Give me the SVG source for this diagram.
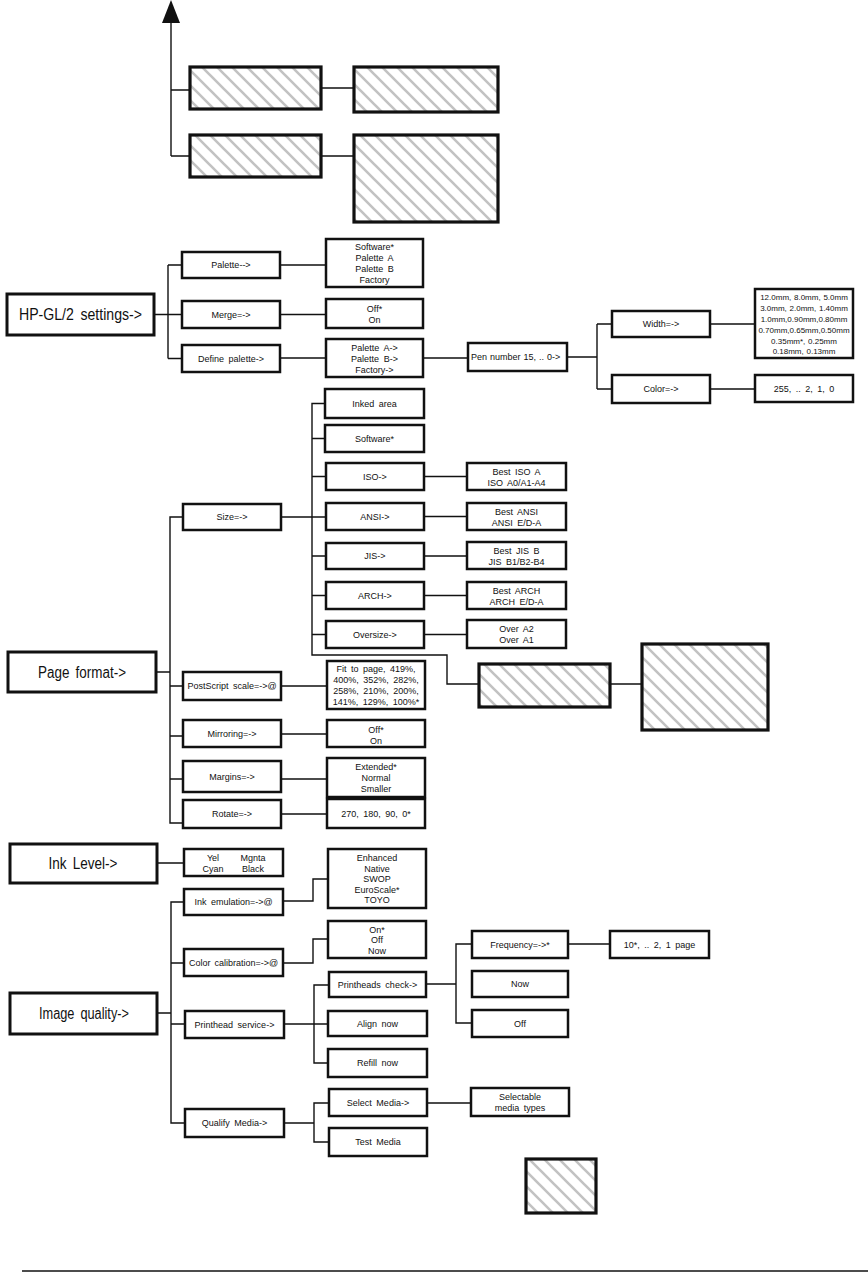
<svg xmlns="http://www.w3.org/2000/svg" width="868" height="1276" viewBox="0 0 868 1276">
<defs>
<pattern id="hatch" patternUnits="userSpaceOnUse" width="15" height="15">
<path d="M-2,-2 L17,17 M-4,11 L4,19 M11,-4 L19,4" stroke="#c2c2c2" stroke-width="2.6" fill="none"/>
</pattern>
<style>
.b{fill:#fff;stroke:#111;stroke-width:2.5}
.B{fill:#fff;stroke:#111;stroke-width:3}
.h{fill:url(#hatch);stroke:#111;stroke-width:3.2}
.t{font-family:"Liberation Sans",Arial,sans-serif;font-size:9px;fill:#111;text-anchor:middle;word-spacing:2px}
.s{font-family:"Liberation Sans",Arial,sans-serif;font-size:8px;fill:#111;text-anchor:middle;word-spacing:0.5px}
.L{font-family:"Liberation Sans",Arial,sans-serif;font-size:16px;fill:#111;text-anchor:middle;word-spacing:3px}
.c{fill:none;stroke:#111;stroke-width:1.4}
</style>
</defs>
<rect width="868" height="1276" fill="#fff"/>

<g id="connectors">
<path class="c" d="M171,20 V156 M171,90 H190 M171,156 H190 M321,88 H354 M321,156 H354"/>
<polygon points="162,23 180,23 171,0" fill="#111"/>
<path class="c" d="M154,314.5 H168 M168,265 V358.5 M168,265 H182 M168,314.5 H182 M168,358.5 H182 M280,265 H326 M280,314.5 H326 M280,358 H326 M423,358 H468 M567,357 H597 M597,324 V389 M597,324 H612 M597,389 H612 M710,324 H755 M710,389 H755"/>
<path class="c" d="M325,403.5 H312 V655 H447 V684 H479 M312,438.5 H325 M312,476.5 H326 M281,517 H326 M312,556 H326 M312,595.5 H326 M312,634.5 H326 M424,476.5 H467 M424,516.5 H467 M424,556 H467 M424,595.5 H467 M424,634.5 H467 M610,684 H642"/>
<path class="c" d="M156,672 H170 M183,517 H170 V823 H183 M170,686 H183 M170,736 H183 M170,779 H183 M281,686 H327 M281,734 H327 M281,779 H327 M281,814 H327"/>
<path class="c" d="M157,863 H184 M283,901 H313 V879 H328 M283,963 H313 V939 H328 M157,1013 H171 M184,902 H171 V1123 H185 M171,963 H184 M171,1024 H185 M284,1024 H328 M329,985 H314 V1063 H328 M426,984 H456 M472,944 H456 V1023 H472 M568,944 H610 M284,1123 H314 M329,1103 H314 V1142 H329 M427,1103 H471"/>
<path class="c" d="M22,1271 H868" stroke-width="1.6"/>
</g>

<g id="top-hatched">
<rect id="hat1" class="h" x="190" y="67" width="131" height="42"/>
<rect id="hat2" class="h" x="354" y="67" width="144" height="45"/>
<rect id="hat3" class="h" x="190" y="135" width="131" height="42"/>
<rect id="hat4" class="h" x="354" y="135" width="144" height="87"/>
</g>

<g id="hpgl">
<rect class="B" x="7" y="294" width="147" height="41"/>
<text class="L" x="80.5" y="320" textLength="123" lengthAdjust="spacingAndGlyphs">HP-GL/2 settings-&gt;</text>
</g>
<g id="palette"><rect class="b" x="182" y="252" width="98" height="26"/><text class="t" x="231" y="268">Palette--&gt;</text></g>
<g id="palette-values"><rect class="b" x="326" y="239" width="97" height="48"/>
<text class="t" x="374.5" y="249.5">Software*</text><text class="t" x="374.5" y="260.8">Palette A</text><text class="t" x="374.5" y="272.1">Palette B</text><text class="t" x="374.5" y="283.4">Factory</text></g>
<g id="merge"><rect class="b" x="182" y="301" width="98" height="27"/><text class="t" x="231" y="317.5">Merge=-&gt;</text></g>
<g id="merge-values"><rect class="b" x="326" y="299" width="97" height="29"/><text class="t" x="374.5" y="311.5">Off*</text><text class="t" x="374.5" y="323">On</text></g>
<g id="define-palette"><rect class="b" x="182" y="345" width="98" height="27"/><text class="t" x="231" y="361.5">Define palette-&gt;</text></g>
<g id="define-values"><rect class="b" x="326" y="339" width="97" height="38"/>
<text class="t" x="374.5" y="350.5">Palette A-&gt;</text><text class="t" x="374.5" y="361.5">Palette B-&gt;</text><text class="t" x="374.5" y="372.5">Factory-&gt;</text></g>
<g id="pen-number"><rect class="b" x="468" y="343" width="99" height="28"/><text class="t" x="471" y="360" style="text-anchor:start;word-spacing:0.5px">Pen number 15, .. 0-&gt;</text></g>
<g id="width"><rect class="b" x="612" y="311" width="98" height="26"/><text class="t" x="661" y="327">Width=-&gt;</text></g>
<g id="width-values"><rect class="b" x="755" y="289" width="98" height="69"/>
<text class="s" x="804" y="300">12.0mm, 8.0mm, 5.0mm</text><text class="s" x="804" y="311">3.0mm, 2.0mm, 1.40mm</text><text class="s" x="804" y="321.5">1.0mm,0.90mm,0.80mm</text><text class="s" x="804" y="332.5">0.70mm,0.65mm,0.50mm</text><text class="s" x="804" y="343.5">0.35mm*, 0.25mm</text><text class="s" x="804" y="354">0.18mm, 0.13mm</text></g>
<g id="color"><rect class="b" x="612" y="375" width="98" height="28"/><text class="t" x="661" y="392">Color=-&gt;</text></g>
<g id="color-values"><rect class="b" x="755" y="375" width="98" height="27"/><text class="t" x="804" y="391.5">255, .. 2, 1, 0</text></g>

<g id="page-format"><rect class="B" x="8" y="652" width="148" height="40"/>
<text class="L" x="82" y="677.5" textLength="88" lengthAdjust="spacingAndGlyphs">Page format-&gt;</text></g>
<g id="size"><rect class="b" x="183" y="504" width="98" height="26"/><text class="t" x="232" y="520">Size=-&gt;</text></g>
<g id="inked-area"><rect class="b" x="325" y="389" width="99" height="29"/><text class="t" x="374.5" y="406.5">Inked area</text></g>
<g id="software"><rect class="b" x="325" y="425" width="99" height="27"/><text class="t" x="374.5" y="441.5">Software*</text></g>
<g id="iso"><rect class="b" x="326" y="463" width="98" height="27"/><text class="t" x="375" y="479.5">ISO-&gt;</text></g>
<g id="iso-values"><rect class="b" x="467" y="463" width="99" height="27"/><text class="t" x="516.5" y="474.5">Best ISO A</text><text class="t" x="516.5" y="485.5">ISO A0/A1-A4</text></g>
<g id="ansi"><rect class="b" x="326" y="503" width="98" height="27"/><text class="t" x="375" y="519.5">ANSI-&gt;</text></g>
<g id="ansi-values"><rect class="b" x="467" y="503" width="99" height="27"/><text class="t" x="516.5" y="514.5">Best ANSI</text><text class="t" x="516.5" y="525.5">ANSI E/D-A</text></g>
<g id="jis"><rect class="b" x="326" y="543" width="98" height="26"/><text class="t" x="375" y="559">JIS-&gt;</text></g>
<g id="jis-values"><rect class="b" x="467" y="542" width="99" height="27"/><text class="t" x="516.5" y="553.5">Best JIS B</text><text class="t" x="516.5" y="564.5">JIS B1/B2-B4</text></g>
<g id="arch"><rect class="b" x="326" y="582" width="98" height="27"/><text class="t" x="375" y="598.5">ARCH-&gt;</text></g>
<g id="arch-values"><rect class="b" x="467" y="582" width="99" height="27"/><text class="t" x="516.5" y="593.5">Best ARCH</text><text class="t" x="516.5" y="604.5">ARCH E/D-A</text></g>
<g id="oversize"><rect class="b" x="326" y="621" width="98" height="27"/><text class="t" x="375" y="637.5">Oversize-&gt;</text></g>
<g id="oversize-values"><rect class="b" x="467" y="620" width="99" height="28"/><text class="t" x="516.5" y="631.5">Over A2</text><text class="t" x="516.5" y="642.5">Over A1</text></g>
<g id="mid-hatched">
<rect id="hat5" class="h" x="479" y="664" width="131" height="43"/>
<rect id="hat6" class="h" x="642" y="644" width="126" height="86"/>
</g>
<g id="postscript"><rect class="b" x="183" y="672" width="98" height="28"/><text class="t" x="232" y="689">PostScript scale=-&gt;@</text></g>
<g id="postscript-values"><rect class="b" x="327" y="661" width="98" height="48"/>
<text class="t" x="376" y="671.5">Fit to page, 419%,</text><text class="t" x="376" y="682.5">400%, 352%, 282%,</text><text class="t" x="376" y="693.5">258%, 210%, 200%,</text><text class="t" x="376" y="704.5">141%, 129%, 100%*</text></g>
<g id="mirroring"><rect class="b" x="183" y="720" width="98" height="27"/><text class="t" x="232" y="736.5">Mirroring=-&gt;</text></g>
<g id="mirroring-values"><rect class="b" x="327" y="720" width="98" height="27"/><text class="t" x="376" y="732.5">Off*</text><text class="t" x="376" y="743.5">On</text></g>
<g id="margins"><rect class="b" x="183" y="761" width="98" height="31"/><text class="t" x="232" y="780">Margins=-&gt;</text></g>
<g id="margins-values"><rect class="b" x="327" y="758" width="98" height="39"/><text class="t" x="376" y="770">Extended*</text><text class="t" x="376" y="781">Normal</text><text class="t" x="376" y="792">Smaller</text></g>
<g id="rotate"><rect class="b" x="183" y="800" width="98" height="28"/><text class="t" x="232" y="817">Rotate=-&gt;</text></g>
<g id="rotate-values"><rect class="b" x="327" y="799" width="98" height="29"/><text class="t" x="376" y="816.5">270, 180, 90, 0*</text></g>

<g id="ink-level"><rect class="B" x="10" y="844" width="147" height="39"/>
<text class="L" x="83" y="869" textLength="69" lengthAdjust="spacingAndGlyphs">Ink Level-&gt;</text></g>
<g id="ink-values"><rect class="b" x="184" y="849" width="99" height="27"/>
<text class="t" x="213" y="861">Yel</text><text class="t" x="253" y="861">Mgnta</text><text class="t" x="213" y="871.5">Cyan</text><text class="t" x="253" y="871.5">Black</text></g>
<g id="ink-emulation"><rect class="b" x="184" y="889" width="99" height="26"/><text class="t" x="233.5" y="905">Ink emulation=-&gt;@</text></g>
<g id="emulation-values"><rect class="b" x="328" y="849" width="98" height="59"/>
<text class="t" x="377" y="861">Enhanced</text><text class="t" x="377" y="871.5">Native</text><text class="t" x="377" y="882">SWOP</text><text class="t" x="377" y="892.5">EuroScale*</text><text class="t" x="377" y="903">TOYO</text></g>
<g id="color-calibration"><rect class="b" x="184" y="949" width="99" height="27"/><text class="t" x="233.5" y="965.5" style="word-spacing:1.5px">Color calibration=-&gt;@</text></g>
<g id="calibration-values"><rect class="b" x="328" y="921" width="98" height="37"/>
<text class="t" x="377" y="932.5">On*</text><text class="t" x="377" y="943">Off</text><text class="t" x="377" y="953.5">Now</text></g>
<g id="image-quality"><rect class="B" x="10" y="993" width="147" height="41"/>
<text class="L" x="84" y="1019" textLength="90" lengthAdjust="spacingAndGlyphs">Image quality-&gt;</text></g>
<g id="printhead-service"><rect class="b" x="185" y="1011" width="99" height="27"/><text class="t" x="234.5" y="1027.5">Printhead service-&gt;</text></g>
<g id="printheads-check"><rect class="b" x="329" y="972" width="97" height="25"/><text class="t" x="377.5" y="987.5">Printheads check-&gt;</text></g>
<g id="align-now"><rect class="b" x="328" y="1011" width="99" height="25"/><text class="t" x="377.5" y="1026.5">Align now</text></g>
<g id="refill-now"><rect class="b" x="328" y="1049" width="99" height="28"/><text class="t" x="377.5" y="1066">Refill now</text></g>
<g id="frequency"><rect class="b" x="472" y="931" width="96" height="27"/><text class="t" x="520" y="947.5">Frequency=-&gt;*</text></g>
<g id="frequency-values"><rect class="b" x="610" y="931" width="99" height="27"/><text class="t" x="659.5" y="947.5">10*, .. 2, 1 page</text></g>
<g id="check-now"><rect class="b" x="472" y="971" width="96" height="26"/><text class="t" x="520" y="987">Now</text></g>
<g id="check-off"><rect class="b" x="472" y="1010" width="96" height="27"/><text class="t" x="520" y="1026.5">Off</text></g>
<g id="qualify-media"><rect class="b" x="185" y="1109" width="99" height="28"/><text class="t" x="234.5" y="1126">Qualify Media-&gt;</text></g>
<g id="select-media"><rect class="b" x="329" y="1089" width="98" height="27"/><text class="t" x="378" y="1105.5">Select Media-&gt;</text></g>
<g id="test-media"><rect class="b" x="329" y="1128" width="98" height="28"/><text class="t" x="378" y="1145">Test Media</text></g>
<g id="selectable"><rect class="b" x="471" y="1088" width="98" height="28"/><text class="t" x="520" y="1100">Selectable</text><text class="t" x="520" y="1111">media types</text></g>
<g id="legend-hatched"><rect id="hat7" class="h" x="526" y="1159" width="70" height="54"/></g>
</svg>
